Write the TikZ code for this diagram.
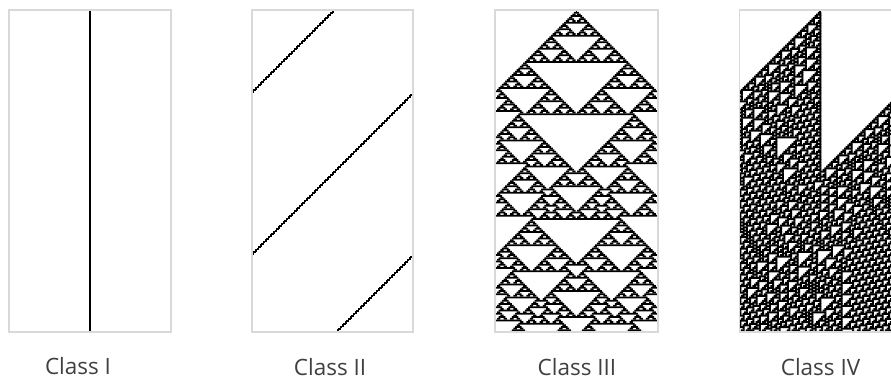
\documentclass[tikz,border=0pt]{standalone}
\usepackage{fontspec}
\setmainfont{Open Sans}
\definecolor{framegray}{HTML}{D9D9D9}
\definecolor{labelgray}{HTML}{404040}
\tikzset{
  panelframe/.style={draw=framegray,line width=1.8pt},
  classlabel/.style={text=labelgray,font=\fontsize{22.5}{26}\selectfont,inner sep=0pt},
}
\newdimen\cax
\newdimen\cay
\def\zerofive{00000}
\edef\zeroside{\zerofive\zerofive\zerofive\zerofive\zerofive\zerofive\zerofive\zerofive\zerofive0000}
\def\setbits#1#2#3#4#5#6#7#8{%
  \expandafter\def\csname r111\endcsname{#1}\expandafter\def\csname r110\endcsname{#2}%
  \expandafter\def\csname r101\endcsname{#3}\expandafter\def\csname r100\endcsname{#4}%
  \expandafter\def\csname r011\endcsname{#5}\expandafter\def\csname r010\endcsname{#6}%
  \expandafter\def\csname r001\endcsname{#7}\expandafter\def\csname r000\endcsname{#8}}
\def\firstcell#1#2\relax{#1}
\def\lastcell#1#2{\ifx#2\relax#1\else\expandafter\lastcell\expandafter#2\fi}
\def\nextcells#1#2#3{\ifx#3\relax\else\csname r#1#2#3\endcsname\expandafter\nextcells\expandafter#2\expandafter#3\fi}
\def\paintcells#1{\ifx#1\relax\else\if#11\pgfpathrectangle{\pgfqpoint{\cax}{\cay}}{\pgfqpoint{\cellink}{-\cellink}}\fi\advance\cax by 1.636pt\expandafter\paintcells\fi}
\newcommand{\capanel}[3]{%
  \setbits#2%
  \def\cellink{#3pt}%
  \xdef\carow{\zeroside1\zeroside}%
  \global\cay=-10.3pt
  \foreach \rownum in {1,...,197}{%
    \cax=#1pt
    \expandafter\paintcells\carow\relax
    \pgfusepath{fill}%
    \global\advance\cay by -1.636pt
    \edef\caext{\expandafter\lastcell\carow\relax\carow\expandafter\firstcell\carow\relax\relax}%
    \xdef\carow{\expandafter\nextcells\caext}%
  }%
}
\begin{document}
\begin{tikzpicture}[x=1pt,y=1pt]
\useasboundingbox (0,0) rectangle (891,-380);
\clip (0,0) rectangle (891,-380);

\capanel{8.8}{00000100}{2}
\capanel{251.6}{00000010}{2.4}
\capanel{495.4}{01111110}{1.75}
\capanel{739.3}{01101110}{2}

\draw[panelframe] (9,-10) rectangle (171,-332);
\draw[panelframe] (252,-10) rectangle (413,-332);
\draw[panelframe] (495,-10) rectangle (658,-332);
\draw[panelframe] (739.5,-10) rectangle (902,-332);

\node[classlabel] (classone) at (78,-366.5) {Class I};
\node[classlabel] (classtwo) at (330,-367) {Class II};
\node[classlabel] (classthree) at (577,-367) {Class III};
\node[classlabel] (classfour) at (820.5,-367) {Class IV};
\end{tikzpicture}
\end{document}
